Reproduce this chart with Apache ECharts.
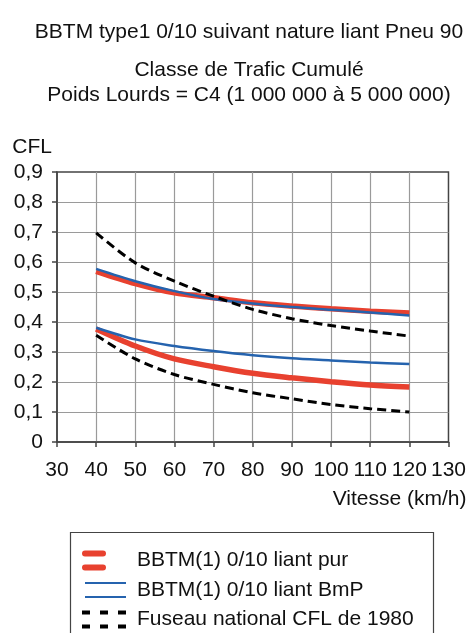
<!DOCTYPE html>
<html><head><meta charset="utf-8">
<script src="https://cdn.jsdelivr.net/npm/echarts@6/dist/echarts.min.js"></script>
<style>html,body{margin:0;padding:0;background:#fff}#c{width:469px;height:633px}</style>
</head><body><div id="c"></div>
<script>
const speeds = [40, 50, 60, 70, 80, 90, 100, 110, 120];
const purUpper = [0.569, 0.528, 0.497, 0.481, 0.464, 0.453, 0.444, 0.436, 0.430];
const purLower = [0.377, 0.320, 0.277, 0.251, 0.229, 0.214, 0.201, 0.190, 0.183];
const bmpUpper = [0.577, 0.536, 0.503, 0.477, 0.462, 0.450, 0.441, 0.432, 0.422];
const bmpLower = [0.381, 0.342, 0.320, 0.303, 0.289, 0.279, 0.272, 0.265, 0.260];
const fuseauUpper = [0.697, 0.597, 0.536, 0.486, 0.442, 0.411, 0.388, 0.370, 0.353];
const fuseauLower = [0.356, 0.277, 0.225, 0.192, 0.164, 0.144, 0.125, 0.111, 0.100];
const yTickLabels = ['0', '0,1', '0,2', '0,3', '0,4', '0,5', '0,6', '0,7', '0,8', '0,9'];
const names = ['BBTM(1) 0/10 liant pur', 'BBTM(1) 0/10 liant BmP', 'Fuseau national CFL de 1980'];

const FONT = '"Liberation Sans", Arial, Helvetica, sans-serif';
const FS = 21;
const RED = '#e8412f', BLUE = '#2563ae', BLACK = '#000000';
const pair = arr => speeds.map((s, i) => [s, arr[i]]);

const iconPur = 'path://M50 20M0 0M3 0h18a3 3 0 0 1 0 6h-18a3 3 0 0 1 0-6zM3 14h18a3 3 0 0 1 0 6h-18a3 3 0 0 1 0-6z';
const iconBmp = 'path://M50 20M0 0M3 2h41v2h-41zM3 16h41v2h-41z';
const iconFus = 'path://M50 20M0 0M0 1h8v4h-8zM18 1h8v4h-8zM36 1h8v4h-8zM0 15h8v4h-8zM18 15h8v4h-8zM36 15h8v4h-8z';

function line(name, data, color, width, type) {
  return {
    name, type: 'line', data: pair(data), smooth: 0.3, symbol: 'none',
    lineStyle: { color, width, type: type || 'solid', cap: 'butt' },
    itemStyle: { color }, z: width > 4 ? 3 : 4
  };
}

const chart = echarts.init(document.getElementById('c'), null, { renderer: 'canvas' });
chart.setOption({
  animation: false,
  textStyle: { fontFamily: FONT },
  title: [
    { text: 'BBTM type1 0/10 suivant nature liant Pneu 90', left: 249, top: 22, textAlign: 'center', padding: 0,
      textStyle: { fontFamily: FONT, fontSize: FS, fontWeight: 'normal', color: '#111', lineHeight: 21 } },
    { text: 'Classe de Trafic Cumulé\nPoids Lourds = C4 (1 000 000 à 5 000 000)', left: 249, top: 58, textAlign: 'center', padding: 0,
      textStyle: { fontFamily: FONT, fontSize: FS, fontWeight: 'normal', color: '#111', lineHeight: 25 } }
  ],
  grid: { left: 57, right: 19, top: 172, bottom: 191, containLabel: false, show: true,
    borderColor: '#444', borderWidth: 1.5, backgroundColor: 'transparent' },
  xAxis: {
    type: 'value', min: 30, max: 130, interval: 10,
    name: 'Vitesse (km/h)', nameLocation: 'end', nameGap: 18,
    nameTextStyle: { fontFamily: FONT, fontSize: FS, color: '#111', align: 'right', verticalAlign: 'top', padding: [47, 0, 0, 0] },
    axisLine: { show: true, lineStyle: { color: '#444', width: 1.5 } },
    axisTick: { show: true, length: 5, inside: false, lineStyle: { color: '#444', width: 1.5 } },
    axisLabel: { fontFamily: FONT, fontSize: FS, color: '#111', margin: 18 },
    splitLine: { show: true, showMinLine: false, showMaxLine: false, lineStyle: { color: '#9a9a9a', width: 1.2 } }
  },
  yAxis: {
    type: 'value', min: 0, max: 0.9, interval: 0.1,
    name: 'CFL', nameLocation: 'end', nameGap: 14,
    nameTextStyle: { fontFamily: FONT, fontSize: FS, color: '#111', align: 'right', padding: [0, 5, 0, 0] },
    axisLine: { show: true, lineStyle: { color: '#444', width: 1.5 } },
    axisTick: { show: true, length: 5, lineStyle: { color: '#444', width: 1.5 } },
    axisLabel: { fontFamily: FONT, fontSize: FS, color: '#111', margin: 14,
      formatter: v => yTickLabels[Math.round(v * 10)] },
    splitLine: { show: true, showMinLine: false, showMaxLine: false, lineStyle: { color: '#9a9a9a', width: 1.2 } }
  },
  legend: {
    orient: 'vertical', left: 68, top: 530,
    padding: [20, 15, 0, 14],
    itemWidth: 50, itemHeight: 20, itemGap: 8.5,
    textStyle: { fontFamily: FONT, fontSize: FS, color: '#111' },
    data: [
      { name: names[0], icon: iconPur, itemStyle: { color: RED, borderWidth: 0 } },
      { name: names[1], icon: iconBmp, itemStyle: { color: BLUE, borderWidth: 0 } },
      { name: names[2], icon: iconFus, itemStyle: { color: BLACK, borderWidth: 0 } }
    ]
  },
  graphic: [
    { type: 'rect', left: 68, top: 530, silent: true, z: -1,
      shape: { width: 363, height: 130 },
      style: { fill: 'none', stroke: '#444', lineWidth: 1.2 } }
  ],
  series: [
    line(names[0], purUpper, RED, 5.5),
    line(names[0], purLower, RED, 5.5),
    line(names[1], bmpUpper, BLUE, 2.5),
    line(names[1], bmpLower, BLUE, 2.5),
    line(names[2], fuseauUpper, BLACK, 3, [9, 5]),
    line(names[2], fuseauLower, BLACK, 3, [9, 5])
  ]
});
</script></body></html>
